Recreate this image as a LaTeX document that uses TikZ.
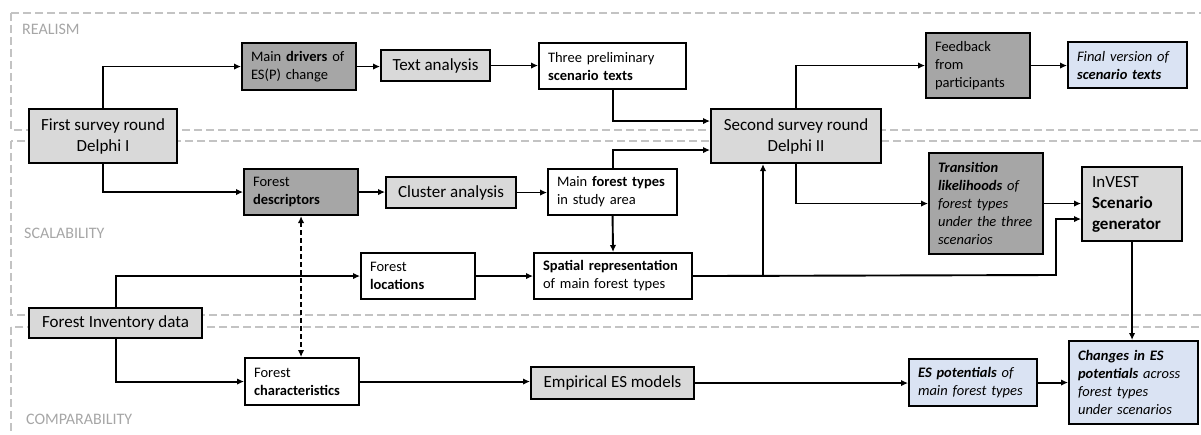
\documentclass[tikz,border=0pt]{standalone}
\usepackage{fontspec}
\setmainfont{Carlito}
\usepackage{xcolor}
\usepackage{tikz}
\usetikzlibrary{arrows.meta}
\definecolor{darkbox}{HTML}{A6A6A6}
\definecolor{lightbox}{HTML}{D9D9D9}
\definecolor{bluebox}{HTML}{DAE3F3}
\definecolor{zone}{HTML}{C3C3C3}
\definecolor{zonetext}{HTML}{A6A6A6}
\tikzstyle{basic box}=[draw, line width=2.1pt, anchor=north west, inner xsep=9pt, inner ysep=0pt]
\tikzstyle{small text}=[font=\fontsize{14.5}{18}\selectfont, align=left]
\tikzstyle{large text}=[font=\fontsize{17}{21}\selectfont, align=center]
\tikzstyle{basic arrow}=[line width=1.9pt, -{Latex[length=7pt,width=6.5pt]}]
\tikzstyle{dashed arrow}=[line width=1.7pt, dash pattern=on 5pt off 3pt, {Latex[length=7pt,width=6.5pt]}-{Latex[length=7pt,width=6.5pt]}]
\tikzstyle{zone line}=[draw=zone, line width=1.9pt, dash pattern=on 8pt off 4pt]
\tikzstyle{zone label}=[anchor=west, inner sep=0pt, text=zonetext, font=\fontsize{16}{18}\selectfont]

\begin{document}
\begin{tikzpicture}[x=1pt, y=-1pt]
		\useasboundingbox (0,0) rectangle (1201,435);

		\draw [style=zone line] (11,13) rectangle (1230,130);
		\draw [style=zone line] (11,141) rectangle (1230,315);
		\draw [style=zone line] (11,327) rectangle (1230,470);
		\node [style=zone label] (19) at (22,29) {REALISM};
		\node [style=zone label] (20) at (24,233) {SCALABILITY};
		\node [style=zone label] (21) at (26,419) {COMPARABILITY};

		\node [style=basic box, style=large text, fill=lightbox, minimum width=148pt, minimum height=54pt] (0) at (28,108) {First survey round\\Delphi I};
		\node [style=basic box, style=small text, fill=darkbox, text width=96pt, minimum height=47pt] (1) at (241,42) {Main \textbf{drivers} of\\ES(P) change};
		\node [style=basic box, style=large text, fill=lightbox, minimum width=109pt, minimum height=31pt] (2) at (380,49) {Text analysis};
		\node [style=basic box, style=small text, fill=white, text width=129pt, minimum height=46pt] (3) at (538,42) {Three preliminary\\\textbf{scenario texts}};
		\node [style=basic box, style=large text, fill=lightbox, minimum width=170pt, minimum height=54pt] (4) at (710,108) {Second survey round\\Delphi II};
		\node [style=basic box, style=small text, fill=darkbox, text width=86pt, minimum height=65pt] (5) at (925,32) {Feedback\\from\\participants};
		\node [style=basic box, style=small text, fill=bluebox, text width=101pt, minimum height=46pt] (6) at (1067,41) {\textit{Final version of}\\\textbf{\textit{scenario texts}}};

		\node [style=basic box, style=small text, fill=darkbox, text width=96pt, minimum height=46pt] (7) at (243,168) {Forest\\\textbf{descriptors}};
		\node [style=basic box, style=large text, fill=lightbox, minimum width=130pt, minimum height=31pt] (8) at (385,176) {Cluster analysis};
		\node [style=basic box, style=small text, fill=white, text width=111pt, minimum height=46pt] (9) at (547,168) {Main \textbf{forest types}\\in study area};
		\node [style=basic box, style=small text, fill=darkbox, text width=96pt, minimum height=101pt] (10) at (928,152) {\textbf{\textit{Transition}}\\\textbf{\textit{likelihoods}} \textit{of}\\\textit{forest types}\\\textit{under the three}\\\textit{scenarios}};
		\node [style=basic box, style=large text, align=left, fill=lightbox, text width=80pt, inner xsep=10pt, minimum height=74pt] (11) at (1081,166) {InVEST\\\textbf{Scenario}\\\textbf{generator}};
		\node [style=basic box, style=small text, fill=white, text width=96pt, minimum height=46pt] (12) at (360,252) {Forest\\\textbf{locations}};
		\node [style=basic box, style=small text, fill=white, text width=140pt, minimum height=46pt] (13) at (533,252) {\textbf{Spatial representation}\\of main forest types};

		\node [style=basic box, style=large text, fill=lightbox, minimum width=173pt, minimum height=30pt] (14) at (28,307) {Forest Inventory data};
		\node [style=basic box, style=small text, fill=white, text width=96pt, minimum height=47pt] (15) at (244,357) {Forest\\\textbf{characteristics}};
		\node [style=basic box, style=large text, fill=lightbox, minimum width=163pt, minimum height=32pt] (16) at (530,366) {Empirical ES models};
		\node [style=basic box, style=small text, fill=bluebox, text width=110pt, minimum height=47pt] (17) at (908,358) {\textbf{\textit{ES potentials}} \textit{of}\\\textit{main forest types}};
		\node [style=basic box, style=small text, fill=bluebox, text width=111pt, minimum height=83pt] (18) at (1068,340) {\textbf{\textit{Changes in ES}}\\\textbf{\textit{potentials}} \textit{across}\\\textit{forest types}\\\textit{under scenarios}};

		\coordinate (a) at (763,275);
		\coordinate (b) at (1056,275);

		\draw [style=basic arrow] (0.north) |- (1.west);
		\draw [style=basic arrow] (0.south) |- (7.west);
		\draw [style=basic arrow] (1.east) -- (1.east -| 2.west);
		\draw [style=basic arrow] (2.east) -- (2.east -| 3.west);
		\draw [style=basic arrow] (3.south) |- ([yshift=15pt]4.west);
		\draw [style=basic arrow] (9.north) |- ([yshift=-14pt]4.west);
		\draw [style=basic arrow] (9.south) -- (13.north);
		\draw [style=basic arrow] (7.east) -- (7.east -| 8.west);
		\draw [style=basic arrow] (8.east) -- (8.east -| 9.west);
		\draw [style=basic arrow] (4.north) |- (5.west);
		\draw [style=basic arrow] (5.east) -- (5.east -| 6.west);
		\draw [style=basic arrow] (4.south) |- (10.west);
		\draw [style=basic arrow] (10.east) -- (10.east -| 11.west);
		\draw [style=basic arrow] (13.east) -- (b) |- ([yshift=-15pt]11.west);
		\draw [style=basic arrow] (a) -- (a |- 4.south);
		\draw [style=basic arrow] (14.north) |- (12.west);
		\draw [style=basic arrow] (12.east) -- (12.east -| 13.west);
		\draw [style=basic arrow] (14.south) |- (15.west);
		\draw [style=basic arrow] (15.east) -- (15.east -| 16.west);
		\draw [style=basic arrow] (16.east) -- (16.east -| 17.west);
		\draw [style=basic arrow] (17.east) -- (17.east -| 18.west);
		\draw [style=basic arrow] (11.south) -- (11.south |- 18.north);
		\draw [style=dashed arrow] (7.south) -- (7.south |- 15.north);

\end{tikzpicture}
\end{document}
